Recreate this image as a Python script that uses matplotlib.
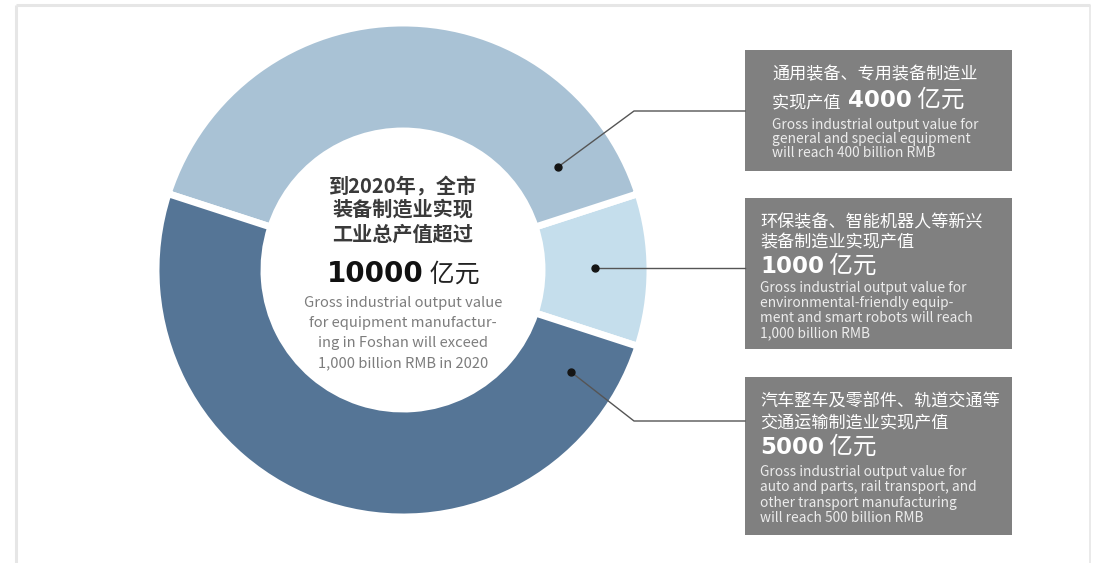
import matplotlib
matplotlib.use('Agg')
import matplotlib.pyplot as plt
from matplotlib.patches import Rectangle

# ---------------- data ----------------
segments_cn = ['环保装备、智能机器人等新兴装备制造业', '通用装备、专用装备制造业',
               '汽车整车及零部件、轨道交通等交通运输制造业']
values = [1000, 4000, 5000]          # 亿元
colors = ['#c5deec', '#a9c2d5', '#557596']
total_value = 10000

center_cn = ['到2020年，全市', '装备制造业实现', '工业总产值超过']
center_en = ['Gross industrial output value', 'for equipment manufactur-',
             'ing in Foshan will exceed', '1,000 billion RMB in 2020']

box1_cn = ['通用装备、专用装备制造业', '实现产值']
box1_en = ['Gross industrial output value for', 'general and special equipment',
           'will reach 400 billion RMB']
box2_cn = ['环保装备、智能机器人等新兴', '装备制造业实现产值']
box2_en = ['Gross industrial output value for', 'environmental-friendly equip-',
           'ment and smart robots will reach', '1,000 billion RMB']
box3_cn = ['汽车整车及零部件、轨道交通等', '交通运输制造业实现产值']
box3_en = ['Gross industrial output value for', 'auto and parts, rail transport, and',
           'other transport manufacturing', 'will reach 500 billion RMB']
unit = '亿元'

# ---------------- figure ----------------
W, H = 1094, 563
fig = plt.figure(figsize=(W / 100, H / 100), dpi=100)
fig.patch.set_facecolor('white')
ax = fig.add_axes([0, 0, 1, 1])

CJK = ['Noto Sans CJK SC', 'DejaVu Sans']
NUM = ['DejaVu Sans']


def Y(y):
    return H - y


cx, cy = 403, 270
R_out, R_in = 247, 139
ax.pie(values, colors=colors, startangle=-18, counterclock=True,
       center=(cx, Y(cy)), radius=R_out,
       wedgeprops=dict(width=R_out - R_in, edgecolor='white', linewidth=5))
ax.set_xlim(0, W)
ax.set_ylim(0, H)
ax.set_aspect('auto')
ax.axis('off')

# frame lines
frame_c = '#e6e6e6'
ax.plot([16, 1090], [Y(5), Y(5)], color=frame_c, lw=2.2, solid_capstyle='butt')
ax.plot([16, 16], [Y(5), 0], color=frame_c, lw=2.2, solid_capstyle='butt')
ax.plot([1090, 1090], [Y(5), 0], color=frame_c, lw=1.2, solid_capstyle='butt')

renderer = fig.canvas.get_renderer()


def runs(x, y, parts, ha='left'):
    objs, widths = [], []
    for t, kw in parts:
        o = ax.text(0, 0, t, va='baseline', ha='left', **kw)
        widths.append(o.get_window_extent(renderer).width)
        objs.append(o)
    start = x - sum(widths) / 2 if ha == 'center' else x
    for o, w in zip(objs, widths):
        o.set_position((start, Y(y)))
        start += w


# ---------------- centre text ----------------
for s, yy in zip(center_cn, [193, 216, 241]):
    ax.text(cx, Y(yy), s, ha='center', va='baseline', family=CJK, fontsize=14.5,
            fontweight='bold', color='#3a3a3a')
runs(cx, 282, [(f'{total_value}', dict(family=NUM, fontsize=20, fontweight='bold', color='#111111')),
               (' ' + unit, dict(family=CJK, fontsize=18, color='#222222'))], ha='center')
for s, yy in zip(center_en, [307, 327, 347, 367]):
    ax.text(cx, Y(yy), s, ha='center', va='baseline', family=CJK, fontsize=10.6,
            color='#7d7d7d')

# ---------------- boxes ----------------
box_c = '#808080'
boxes = [(745, 50, 1012, 171), (745, 198, 1012, 349), (745, 377, 1012, 535)]
for x0, y0, x1, y1 in boxes:
    ax.add_patch(Rectangle((x0, Y(y1)), x1 - x0, y1 - y0, facecolor=box_c,
                           edgecolor='none', zorder=2))

cn_kw = dict(family=CJK, fontsize=12.3, color='white', zorder=3)
en_kw = dict(family=CJK, fontsize=9.9, color='#ececec', zorder=3)
num_kw = dict(family=NUM, fontsize=16.5, fontweight='bold', color='white', zorder=3)
unit_kw = dict(family=CJK, fontsize=17, color='white', zorder=3)

# box 1
ax.text(772, Y(79), box1_cn[0], ha='left', va='baseline', **cn_kw)
runs(772, 107, [(box1_cn[1] + '  ', cn_kw), (f'{values[1]}', num_kw), (' ' + unit, unit_kw)])
for s, yy in zip(box1_en, [129, 143, 157]):
    ax.text(772, Y(yy), s, ha='left', va='baseline', **en_kw)

# box 2
ax.text(760, Y(227), box2_cn[0], ha='left', va='baseline', **cn_kw)
ax.text(760, Y(247), box2_cn[1], ha='left', va='baseline', **cn_kw)
runs(760, 273, [(f'{values[0]}', num_kw), (' ' + unit, unit_kw)])
for s, yy in zip(box2_en, [292, 307, 322, 337]):
    ax.text(760, Y(yy), s, ha='left', va='baseline', **en_kw)

# box 3
ax.text(760, Y(407), box3_cn[0], ha='left', va='baseline', **cn_kw)
ax.text(760, Y(428), box3_cn[1], ha='left', va='baseline', **cn_kw)
runs(760, 454, [(f'{values[2]}', num_kw), (' ' + unit, unit_kw)])
for s, yy in zip(box3_en, [476, 491, 507, 522]):
    ax.text(760, Y(yy), s, ha='left', va='baseline', **en_kw)

# ---------------- leader lines & dots ----------------
line_c = '#555555'
ax.plot([558, 634, 745], [Y(167), Y(111), Y(111)], color=line_c, lw=1, zorder=4)
ax.plot([595, 745], [Y(268), Y(268)], color=line_c, lw=1, zorder=4)
ax.plot([571, 634, 745], [Y(372), Y(421), Y(421)], color=line_c, lw=1, zorder=4)
ax.plot([558, 595, 571], [Y(167), Y(268), Y(372)], 'o', ms=5, color='#151515', zorder=5)

fig.savefig('out.png', dpi=100)
